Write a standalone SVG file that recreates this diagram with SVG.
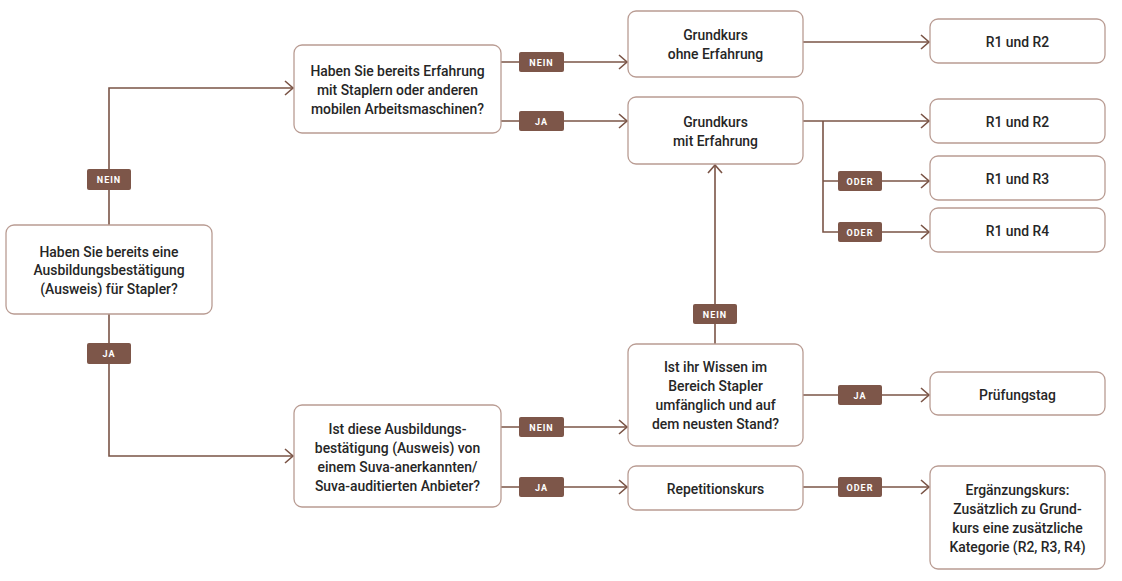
<svg xmlns="http://www.w3.org/2000/svg" width="1122" height="581" viewBox="0 0 1122 581">
<defs>
<style>
.node rect{fill:#fff;stroke:#b99c93;stroke-width:1.3}
.node text{font-family:Roboto,"Liberation Sans",sans-serif;font-size:13.9px;font-weight:500;fill:#262626;text-anchor:middle}
.conn path{fill:none;stroke:#7a5446;stroke-width:1.6}
.lbl rect{fill:#7d5649}
.lbl text{font-family:Roboto,"Liberation Sans",sans-serif;font-size:9px;font-weight:700;fill:#fff;text-anchor:middle;letter-spacing:1px}
</style>
<marker id="arr" markerWidth="12" markerHeight="16" refX="10" refY="8" orient="auto" markerUnits="userSpaceOnUse">
<path d="M2,1 L10,8 L2,15" fill="none" stroke="#7a5446" stroke-width="1.6"/>
</marker>
</defs>
<rect width="1122" height="581" fill="#fff"/>
<g class="conn">
<path d="M109,225 V88 H293" marker-end="url(#arr)"/>
<path d="M109,314 V456 H293" marker-end="url(#arr)"/>
<path d="M501,62 H627" marker-end="url(#arr)"/>
<path d="M501,121 H627" marker-end="url(#arr)"/>
<path d="M803,42 H929" marker-end="url(#arr)"/>
<path d="M803,121 H929" marker-end="url(#arr)"/>
<path d="M823,121 V232 H929" marker-end="url(#arr)"/>
<path d="M823,181 H929" marker-end="url(#arr)"/>
<path d="M715,344 V165" marker-end="url(#arr)"/>
<path d="M803,395 H929" marker-end="url(#arr)"/>
<path d="M501,427 H627" marker-end="url(#arr)"/>
<path d="M501,487 H627" marker-end="url(#arr)"/>
<path d="M803,487 H929" marker-end="url(#arr)"/>
</g>
<g class="lbl">
<g id="l1"><rect x="87" y="169" width="44" height="21" rx="2"/><text x="109" y="183">NEIN</text></g>
<g id="l2"><rect x="87" y="343" width="44" height="21" rx="2"/><text x="109" y="357">JA</text></g>
<g id="l3"><rect x="519" y="52" width="45" height="20" rx="2"/><text x="541.5" y="65.5">NEIN</text></g>
<g id="l4"><rect x="519" y="111" width="45" height="20" rx="2"/><text x="541.5" y="124.5">JA</text></g>
<g id="l5"><rect x="838" y="171" width="44" height="20" rx="2"/><text x="860" y="184.5">ODER</text></g>
<g id="l6"><rect x="838" y="222" width="44" height="20" rx="2"/><text x="860" y="235.5">ODER</text></g>
<g id="l7"><rect x="693" y="304" width="44" height="20" rx="2"/><text x="715" y="317.5">NEIN</text></g>
<g id="l8"><rect x="838" y="385" width="44" height="20" rx="2"/><text x="860" y="398.5">JA</text></g>
<g id="l9"><rect x="519" y="417" width="45" height="20" rx="2"/><text x="541.5" y="430.5">NEIN</text></g>
<g id="l10"><rect x="519" y="477" width="45" height="20" rx="2"/><text x="541.5" y="490.5">JA</text></g>
<g id="l11"><rect x="838" y="477" width="44" height="20" rx="2"/><text x="860" y="490.5">ODER</text></g>
</g>
<g id="nA" class="node"><rect x="6" y="225" width="206" height="89" rx="8"/>
<text x="109" y="257">Haben Sie bereits eine</text><text x="109" y="275">Ausbildungsbestätigung</text><text x="109" y="294">(Ausweis) für Stapler?</text></g>
<g id="nB" class="node"><rect x="294" y="45" width="207" height="88" rx="8"/>
<text x="397.5" y="76">Haben Sie bereits Erfahrung</text><text x="397.5" y="95">mit Staplern oder anderen</text><text x="397.5" y="114">mobilen Arbeitsmaschinen?</text></g>
<g id="nC" class="node"><rect x="628" y="11" width="175" height="66" rx="8"/>
<text x="715.5" y="40">Grundkurs</text><text x="715.5" y="59">ohne Erfahrung</text></g>
<g id="nD" class="node"><rect x="628" y="97" width="175" height="67" rx="8"/>
<text x="715.5" y="127">Grundkurs</text><text x="715.5" y="146">mit Erfahrung</text></g>
<g id="nR12a" class="node"><rect x="930" y="19" width="175" height="44" rx="8"/><text x="1017.5" y="47">R1 und R2</text></g>
<g id="nR12b" class="node"><rect x="930" y="99" width="175" height="44" rx="8"/><text x="1017.5" y="127">R1 und R2</text></g>
<g id="nR13" class="node"><rect x="930" y="156" width="175" height="44" rx="8"/><text x="1017.5" y="184">R1 und R3</text></g>
<g id="nR14" class="node"><rect x="930" y="208" width="175" height="44" rx="8"/><text x="1017.5" y="236">R1 und R4</text></g>
<g id="nE" class="node"><rect x="628" y="344" width="175" height="102" rx="8"/>
<text x="715.5" y="372">Ist ihr Wissen im</text><text x="715.5" y="391">Bereich Stapler</text><text x="715.5" y="410">umfänglich und auf</text><text x="715.5" y="429">dem neusten Stand?</text></g>
<g id="nP" class="node"><rect x="930" y="372" width="175" height="43" rx="8"/><text x="1017.5" y="400">Prüfungstag</text></g>
<g id="nF" class="node"><rect x="294" y="405" width="207" height="102" rx="8"/>
<text x="397.5" y="434">Ist diese Ausbildungs-</text><text x="397.5" y="453">bestätigung (Ausweis) von</text><text x="397.5" y="472">einem Suva-anerkannten/</text><text x="397.5" y="491">Suva-auditierten Anbieter?</text></g>
<g id="nRep" class="node"><rect x="628" y="466" width="175" height="44" rx="8"/><text x="715.5" y="494">Repetitionskurs</text></g>
<g id="nErg" class="node"><rect x="930" y="466" width="175" height="103" rx="8"/>
<text x="1017.5" y="495">Ergänzungskurs:</text><text x="1017.5" y="514">Zusätzlich zu Grund-</text><text x="1017.5" y="533">kurs eine zusätzliche</text><text x="1017.5" y="552">Kategorie (R2, R3, R4)</text></g>
</svg>
